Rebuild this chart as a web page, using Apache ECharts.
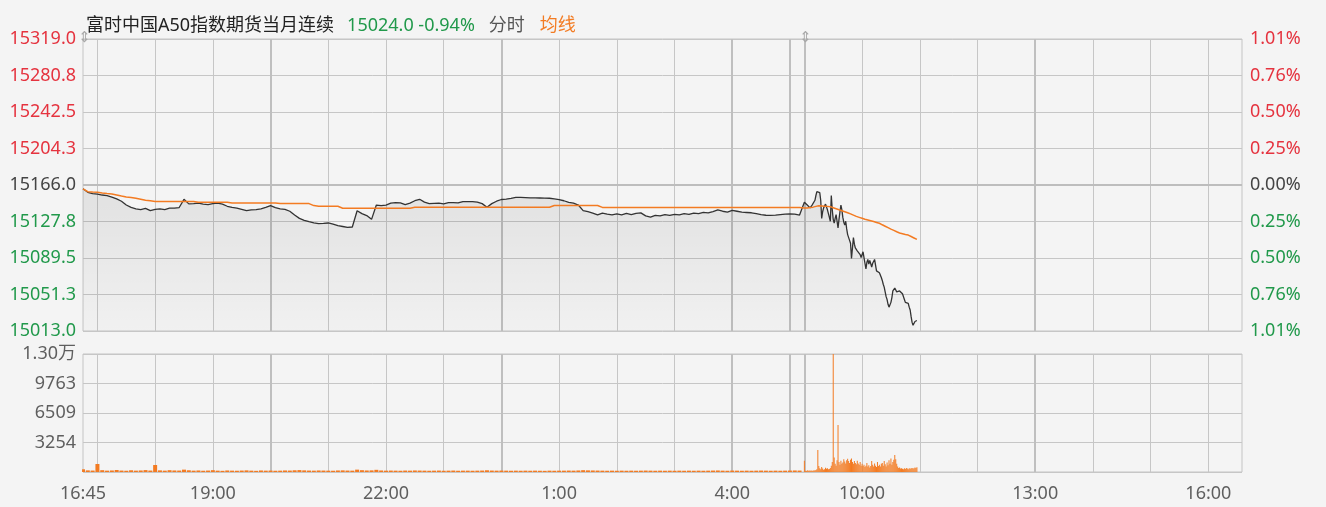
<!DOCTYPE html>
<html>
<head>
<meta charset="utf-8">
<script src="https://cdn.jsdelivr.net/npm/echarts@6/dist/echarts.min.js"></script>
<style>
html,body{margin:0;padding:0;background:#f4f4f4;}
#chart{width:1326px;height:507px;}
</style>
</head>
<body>
<div id="chart"></div>
<script>
// ---------------- data ----------------
const TITLE_NAME = '富时中国A50指数期货当月连续';
const PREV_CLOSE = 15166.0;
const PRICE_STEP = 38.25;
const VOL_MAX = 13017;
const SESSIONS = [['16:45', '5:14'], ['9:00', '16:35']];
const X_LABELS = ['16:45', '19:00', '22:00', '1:00', '4:00', '10:00', '13:00', '16:00'];
const THICK_LINES = ['20:00', '0:00', '4:00', '5:00', '9:00', '13:00'];

// night session, one sample every 5 minutes starting 16:45
const NIGHT_START = '16:45', NIGHT_STEP = 5;
const nightPrice = [
  15162, 15158.4, 15157, 15156.5, 15155.5, 15154.9, 15153.3, 15151.5, 15149, 15145,
  15142.5, 15141, 15140.3, 15141.5, 15139.2, 15140.5, 15141, 15140.3, 15141.7, 15141.7,
  15142.4, 15151, 15146.2, 15146.5, 15147, 15146, 15145.5, 15146.5, 15147, 15146,
  15143.7, 15142.5, 15141.7, 15140.5, 15139.2, 15140, 15140.3, 15141, 15142.5, 15144.4,
  15142.3, 15141, 15140.5, 15138.5, 15134.5, 15131, 15129, 15127.5, 15126.4, 15125.5,
  15125.8, 15126.2, 15125, 15123.5, 15122.5, 15121.5, 15122, 15139, 15136, 15134,
  15130, 15145, 15144.4, 15145, 15147, 15147.5, 15147.2, 15145.5, 15147, 15149.5,
  15151, 15148, 15146.5, 15146.8, 15147, 15146.2, 15147.5, 15147.5, 15147.2, 15148.6,
  15148.6, 15148.6, 15148, 15146.5, 15142.7, 15146.5, 15149, 15150.8, 15151.3, 15152,
  15153, 15153, 15152.8, 15152.6, 15152.5, 15152.4, 15152.2, 15152.1, 15151.5, 15150.7,
  15149.5, 15147.9, 15147, 15145, 15139.2, 15138, 15136.5, 15134.7, 15136.5, 15135.5,
  15134.7, 15135.8, 15134.6, 15136.2, 15134.9, 15136.3, 15136.8, 15133.6, 15132.3, 15134.2,
  15133.7, 15135.0, 15134.1, 15135.3, 15134.6, 15135.9, 15135.2, 15136.6, 15135.9, 15137.3,
  15136.8, 15138.2, 15139.9, 15138.5, 15137.5, 15139.5, 15138.5, 15137.5, 15137.2, 15136.9,
  15136, 15135, 15134.3, 15134.2, 15134.5, 15135, 15135.5, 15135.7, 15135.5, 15134.5
];
const nightAvg = [
  15162, 15159, 15158.6, 15158.3, 15157.6, 15157, 15156.6, 15155.6, 15154.5, 15153.5,
  15153, 15152, 15151, 15150, 15149.5, 15148.6, 15148.6, 15148.6, 15148.6, 15148.6,
  15148.6, 15148.6, 15148.6, 15148.6, 15148, 15148, 15148, 15148, 15148, 15148,
  15148, 15147.2, 15147.2, 15147.2, 15147.2, 15147.2, 15147.2, 15147.2, 15147.2, 15147.2,
  15147.2, 15146.5, 15146.5, 15146.5, 15146.5, 15146.5, 15146.5, 15146.5, 15144.4, 15143.7,
  15143.7, 15143.7, 15143.7, 15143.7, 15141.7, 15141.7, 15141.7, 15141.7, 15141.7, 15141.7,
  15141.7, 15141.7, 15141.7, 15141.7, 15141.7, 15141.7, 15141.7, 15141.7, 15141.7, 15142.7,
  15142.7, 15142.7, 15142.7, 15142.7, 15142.7, 15142.7, 15142.7, 15142.7, 15142.7, 15142.7,
  15142.7, 15142.7, 15142.7, 15142.7, 15142.7, 15142.7, 15142.7, 15142.7, 15142.7, 15142.7,
  15142.7, 15142.7, 15142.7, 15142.7, 15142.7, 15142.7, 15142.7, 15142.7, 15144.5, 15144.5,
  15144.5, 15144.5, 15144.5, 15144.5, 15144.5, 15144.5, 15144.5, 15144.5, 15142.5, 15142.5,
  15142.5, 15142.5, 15142.5, 15142.5, 15142.5, 15142.5, 15142.5, 15142.5, 15142.5, 15142.5,
  15142.5, 15142.5, 15142.5, 15142.5, 15142.5, 15142.5, 15142.5, 15142.5, 15142.5, 15142.5,
  15142.5, 15142.5, 15142.5, 15142.5, 15142.5, 15142.5, 15142.5, 15142.5, 15142.5, 15142.5,
  15142.5, 15142.5, 15142.5, 15142.5, 15142.5, 15142.5, 15142.5, 15142.5, 15142.5, 15142.5
];
const nightVol = [
  300, 180, 160, 880, 200, 150, 170, 220, 160, 140,
  190, 150, 170, 210, 160, 770, 180, 150, 200, 170,
  160, 260, 190, 150, 170, 140, 160, 200, 150, 130,
  170, 150, 140, 160, 180, 150, 130, 170, 150, 160,
  140, 150, 170, 160, 190, 210, 180, 160, 150, 170,
  160, 150, 140, 170, 180, 160, 150, 260, 200, 170,
  180, 240, 170, 150, 160, 150, 140, 160, 150, 170,
  160, 150, 140, 150, 160, 140, 150, 160, 140, 150,
  150, 140, 150, 160, 190, 160, 150, 160, 150, 140,
  150, 140, 150, 140, 150, 140, 130, 150, 140, 150,
  150, 160, 150, 170, 200, 180, 170, 160, 150, 140,
  150, 140, 150, 140, 150, 140, 150, 160, 150, 140,
  150, 140, 150, 140, 150, 140, 150, 140, 150, 140,
  150, 160, 170, 150, 140, 160, 150, 140, 150, 140,
  150, 160, 150, 140, 150, 140, 150, 160, 170, 160
];

// day session, one sample every minute starting 9:00
const DAY_START = '9:00', DAY_STEP = 1;
const dayPrice = [
  15148, 15149, 15146, 15145, 15143, 15144, 15142, 15141, 15145, 15147,
  15147, 15150, 15155, 15159, 15157, 15161, 15158, 15150, 15131, 15138,
  15142, 15144, 15146, 15145, 15140, 15136, 15132, 15128, 15155, 15140,
  15130, 15126, 15131, 15135, 15128, 15121, 15130, 15138, 15145, 15140,
  15132, 15127, 15124, 15128, 15120, 15114, 15112, 15108, 15105, 15089,
  15100, 15111, 15104, 15100, 15102, 15097, 15095, 15098, 15093, 15090,
  15092, 15096, 15090, 15084, 15078, 15085, 15088, 15083, 15087, 15086,
  15080, 15084, 15086, 15088, 15082, 15076, 15078, 15075, 15074, 15073,
  15069, 15066, 15062, 15059, 15054, 15049, 15046, 15041, 15038, 15040,
  15043, 15048, 15055, 15057, 15058, 15056, 15054, 15054, 15053, 15055,
  15055, 15053, 15052, 15050, 15046, 15043, 15042, 15041, 15042, 15038,
  15035, 15028, 15022, 15019, 15021, 15023, 15025, 15024
];
const dayVol = [
  1250, 150, 120, 180, 140, 160, 130, 170, 150, 140,
  190, 160, 220, 300, 2430, 650, 420, 300, 550, 380,
  260, 310, 480, 350, 420, 290, 330, 450, 700, 1100,
  13017, 1600, 900, 700, 1300, 5180, 1100, 800, 1250, 900,
  1050, 1400, 1150, 950, 1300, 1450, 1200, 1000, 1350, 1500,
  1100, 900, 1200, 1000, 850, 1250, 950, 800, 1100, 700,
  900, 650, 800, 550, 700, 1000, 600, 750, 500, 650,
  1200, 800, 600, 950, 700, 550, 1100, 650, 800, 600,
  900, 1000, 700, 1200, 850, 600, 1050, 750, 1300, 900,
  1500, 800, 1100, 1350, 1870, 1400, 900, 600, 450, 500,
  380, 420, 350, 300, 400, 330, 450, 380, 300, 420,
  350, 400, 450, 380, 420, 500, 450, 520
];
// day average line, one sample every 3 minutes starting 9:00
const DAY_AVG_STEP = 3;
const dayAvg = [
  15141.8, 15142.0, 15142.3, 15142.8, 15143.6, 15144.2, 15144.0, 15143.8, 15143.6, 15143.3,
  15142.2, 15141.1, 15140.0, 15139.0, 15138.0, 15136.9, 15135.7, 15134.4, 15133.1, 15132.1,
  15131.1, 15130.1, 15129.3, 15128.5, 15127.7, 15126.8, 15125.9, 15124.3, 15122.8, 15121.3,
  15119.7, 15118.4, 15117.0, 15115.7, 15115.0, 15114.2, 15113.5, 15112.0, 15110.5, 15109.0
];

// ---------------- helpers ----------------
function toMin(t) { const p = t.split(':').map(Number); return p[0] * 60 + p[1]; }
function fmt(m) { m = ((m % 1440) + 1440) % 1440; const h = Math.floor(m / 60), mm = m % 60; return h + ':' + (mm < 10 ? '0' : '') + mm; }
const categories = [];
SESSIONS.forEach(function (s) {
  let a = toMin(s[0]), b = toMin(s[1]);
  if (b < a) b += 1440;
  for (let t = a; t <= b; t++) categories.push(fmt(t));
});
function pairs(start, step, vals, f) {
  const s = toMin(start);
  return vals.map(function (v, i) { return [fmt(s + i * step), f ? f(v) : v]; });
}
const rel = function (v) { return +(v - PREV_CLOSE).toFixed(2); };
const priceData = pairs(NIGHT_START, NIGHT_STEP, nightPrice, rel).concat(pairs(DAY_START, DAY_STEP, dayPrice, rel));
const avgData = pairs(NIGHT_START, NIGHT_STEP, nightAvg, rel).concat(pairs(DAY_START, DAY_AVG_STEP, dayAvg, rel));
const dayVolData = pairs(DAY_START, DAY_STEP, dayVol);
const nightVolData = pairs(NIGHT_START, NIGHT_STEP, nightVol);

const lastPrice = dayPrice[dayPrice.length - 1];
const chgPct = (lastPrice - PREV_CLOSE) / PREV_CLOSE * 100;

const RED = '#e5333f', GREEN = '#21994b', MID = '#444444', GRAYTXT = '#5f5f5f', GRID = '#c6c6c6';
const ORANGE = '#f37b22';
const FONT = '"Noto Sans", "Noto Sans CJK SC", sans-serif';
const halfRange = PRICE_STEP * 4;

function isHour(idx, val) { return /:00$/.test(val); }
function isThick(idx, val) { return THICK_LINES.indexOf(val) >= 0; }
function isLabel(idx, val) { return X_LABELS.indexOf(val) >= 0; }
function sideColor(v) { return v > 1e-6 ? RED : (v < -1e-6 ? GREEN : MID); }

function xAxisBase(gridIndex) {
  return {
    type: 'category', gridIndex: gridIndex, data: categories, boundaryGap: false,
    axisLine: { show: false }, axisTick: { show: false }, axisLabel: { show: false },
    splitLine: { show: true, interval: isHour, lineStyle: { color: GRID, width: 1 } }
  };
}
const xMainThin = xAxisBase(0);
const xVolThin = xAxisBase(1);
xVolThin.axisLabel = { show: true, interval: isLabel, color: GRAYTXT, fontSize: 18, fontFamily: FONT, margin: 13, hideOverlap: false };
const xMainThick = xAxisBase(0);
xMainThick.splitLine = { show: true, interval: isThick, lineStyle: { color: '#bfbfbf', width: 2 } };
const xVolThick = xAxisBase(1);
xVolThick.splitLine = { show: true, interval: isThick, lineStyle: { color: '#bfbfbf', width: 2 } };

const chart = echarts.init(document.getElementById('chart'), null, { renderer: 'canvas' });
chart.setOption({
  backgroundColor: '#f4f4f4',
  animation: false,
  title: {
    left: 81, top: 12,
    text: '{a|' + TITLE_NAME + '}{b|' + lastPrice.toFixed(1) + ' ' + chgPct.toFixed(2) + '%}{c|分时}{d|均线}',
    textStyle: {
      fontWeight: 'normal',
      rich: {
        a: { fontSize: 18, fontFamily: FONT, fontWeight: 'normal', color: '#222222' },
        b: { fontSize: 18, fontFamily: FONT, fontWeight: 'normal', color: GREEN, padding: [0, 0, 0, 13] },
        c: { fontSize: 18, fontFamily: FONT, fontWeight: 'normal', color: '#555555', padding: [0, 0, 0, 14] },
        d: { fontSize: 18, fontFamily: FONT, fontWeight: 'normal', color: ORANGE, padding: [0, 0, 0, 15] }
      }
    }
  },
  grid: [
    { left: 83, right: 84, top: 39, height: 292, show: true, borderColor: '#c4c4c4', borderWidth: 1, backgroundColor: 'transparent' },
    { left: 83, right: 84, top: 354, height: 118, show: true, borderColor: '#c4c4c4', borderWidth: 1, backgroundColor: 'transparent' }
  ],
  xAxis: [xMainThin, xVolThin, xMainThick, xVolThick],
  yAxis: [
    {
      type: 'value', gridIndex: 0, position: 'left', min: -halfRange, max: halfRange, interval: PRICE_STEP,
      axisLine: { show: false }, axisTick: { show: false },
      axisLabel: { margin: 7, fontSize: 18, fontFamily: FONT, color: sideColor,
        formatter: function (v) { return (PREV_CLOSE + v).toFixed(1); } },
      splitLine: { show: true, lineStyle: { color: GRID, width: 1 } }
    },
    {
      type: 'value', gridIndex: 0, position: 'right', min: -halfRange, max: halfRange, interval: PRICE_STEP,
      axisLine: { show: false }, axisTick: { show: false },
      axisLabel: { margin: 8, fontSize: 18, fontFamily: FONT, color: sideColor,
        formatter: function (v) { return (Math.abs(v) / PREV_CLOSE * 100).toFixed(2) + '%'; } },
      splitLine: { show: false }
    },
    {
      type: 'value', gridIndex: 1, position: 'left', min: 0, max: VOL_MAX, interval: VOL_MAX / 4,
      axisLine: { show: false }, axisTick: { show: false },
      axisLabel: { margin: 7, fontSize: 18, fontFamily: FONT, color: GRAYTXT, showMinLabel: false,
        formatter: function (v) { return v >= 10000 ? (v / 10000).toFixed(2) + '万' : String(Math.round(v)); } },
      splitLine: { show: true, lineStyle: { color: GRID, width: 1 } }
    }
  ],
  series: [
    {
      name: '分时', type: 'line', xAxisIndex: 0, yAxisIndex: 0, data: priceData,
      showSymbol: false, symbol: 'none', z: 5,
      lineStyle: { color: '#333333', width: 1.3 },
      areaStyle: {
        origin: 'start',
        color: new echarts.graphic.LinearGradient(0, 0, 0, 1, [
          { offset: 0, color: 'rgba(0,0,0,0.11)' },
          { offset: 1, color: 'rgba(0,0,0,0.02)' }
        ])
      },
      markLine: {
        silent: true, symbol: 'none', label: { show: false }, animation: false,
        lineStyle: { color: '#bdbdbd', width: 2, type: 'solid' },
        data: [{ yAxis: 0 }]
      }
    },
    {
      name: '均线', type: 'line', xAxisIndex: 0, yAxisIndex: 0, data: avgData,
      showSymbol: false, symbol: 'none', z: 6,
      lineStyle: { color: ORANGE, width: 1.5 }
    },
    {
      name: 'dayVol', type: 'bar', xAxisIndex: 1, yAxisIndex: 2, data: dayVolData,
      barWidth: 1, itemStyle: { color: ORANGE }
    },
    {
      name: 'nightVol', type: 'bar', xAxisIndex: 3, yAxisIndex: 2, data: nightVolData,
      barWidth: 4, itemStyle: { color: ORANGE }
    }
  ],
  graphic: [
    { type: 'text', left: 78, top: 31, z: 100, style: { text: '⇕', fontSize: 15, fill: '#a8a8a8', fontFamily: 'DejaVu Sans' } },
    { type: 'text', left: 799, top: 31, z: 100, style: { text: '⇕', fontSize: 15, fill: '#a8a8a8', fontFamily: 'DejaVu Sans' } }
  ]
});
</script>
</body>
</html>
